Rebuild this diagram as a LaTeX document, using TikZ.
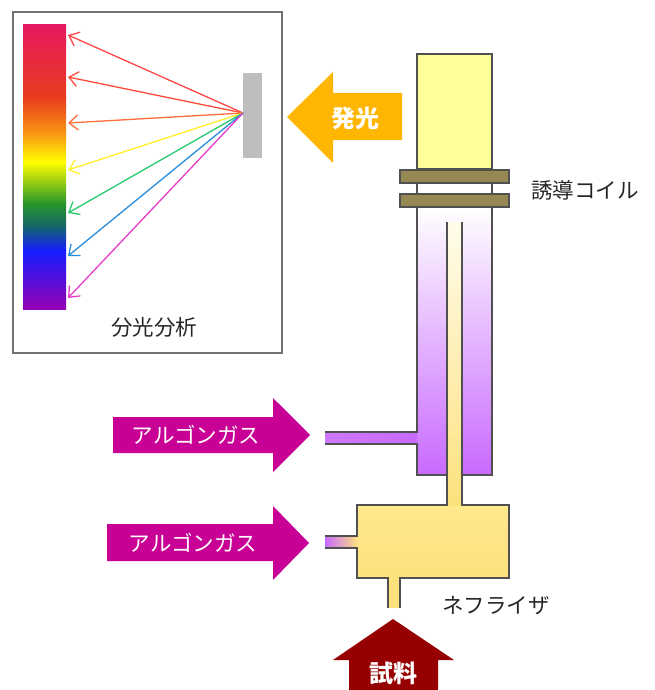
\documentclass[tikz,border=0pt]{standalone}
\usepackage{fontspec}
\setmainfont{Noto Sans CJK JP}
\usetikzlibrary{arrows.meta}

\definecolor{wallgray}{RGB}{80,80,80}
\definecolor{torchyellow}{RGB}{255,255,153}
\definecolor{coilolive}{RGB}{150,136,82}
\definecolor{plasmapurple}{RGB}{200,105,255}
\definecolor{gasmagenta}{RGB}{200,0,150}
\definecolor{emitorange}{RGB}{255,182,0}
\definecolor{samplered}{RGB}{150,0,0}
\definecolor{nebyellow}{RGB}{253,225,125}
\definecolor{gratinggray}{RGB}{190,190,190}

\begin{document}
\begin{tikzpicture}[
        x=1pt, y=-1pt,
        wall/.style={draw=wallgray, line width=1.2pt},
        part/.style={wall, inner sep=0pt, outer sep=0pt, anchor=north west},
        coil/.style={part, fill=coilolive, minimum width=109pt, minimum height=13pt},
        partname/.style={font=\fontsize{21.5}{21.5}\selectfont, text=black!85, inner sep=0pt},
        arrowtext/.style={font=\fontsize{21.5}{21.5}\selectfont, text=white, inner sep=0pt},
        boldtext/.style={arrowtext, font=\fontsize{24}{24}\selectfont\bfseries},
        ray/.style={line width=1.3pt, -{Straight Barb[length=9pt,width=15pt]}},
    ]
    \useasboundingbox (0,0) rectangle (654,690);

    % spectrometer box
    \node[part, draw=wallgray!80, minimum width=269pt, minimum height=341pt] (spec) at (13,12) {};
    \node[partname] (specname) at (154,327) {分光分析};

    % spectrum strip, shaded piece by piece
    \shade[top color={rgb,255:red,230;green,25;blue,95}, bottom color={rgb,255:red,232;green,60;blue,30}] (23,25) rectangle (66,97.5);
    \shade[top color={rgb,255:red,232;green,60;blue,30}, bottom color={rgb,255:red,250;green,150;blue,20}] (23,97) rectangle (66,133.5);
    \shade[top color={rgb,255:red,250;green,150;blue,20}, bottom color={rgb,255:red,255;green,255;blue,0}] (23,133) rectangle (66,162.5);
    \shade[top color={rgb,255:red,255;green,255;blue,0}, bottom color={rgb,255:red,40;green,150;blue,40}] (23,162) rectangle (66,203.5);
    \shade[top color={rgb,255:red,40;green,150;blue,40}, bottom color={rgb,255:red,20;green,100;blue,110}] (23,203) rectangle (66,227.5);
    \shade[top color={rgb,255:red,20;green,100;blue,110}, bottom color={rgb,255:red,20;green,30;blue,255}] (23,227) rectangle (66,250.5);
    \shade[top color={rgb,255:red,20;green,30;blue,255}, bottom color={rgb,255:red,150;green,0;blue,180}] (23,250) rectangle (66,309);

    % grating and dispersed rays
    \node[part, draw=none, fill=gratinggray, minimum width=19pt, minimum height=85pt] (grating) at (243,73) {};
    \coordinate (focus) at (243,113);
    \foreach \y/\r/\g/\b in {35/255/70/70, 77/255/75/55, 123/255/110/60, 170/255/240/40,
                             213/40/200/110, 256/40/140/220, 298/230/60/200}
        \draw[ray, draw={rgb,255:red,\r;green,\g;blue,\b}] (focus) -- (68,\y);

    % emission arrow
    \fill[emitorange] (402,93) -- (333,93) -- (333,72) -- (287,117) -- (333,163)
        -- (333,140) -- (402,140) -- cycle;
    \node[boldtext] (emit) at (355,118) {発光};

    % torch: plasma tube with inner sample tube
    \shade[top color=white, bottom color=plasmapurple] (417,207) rectangle (492,475);
    \shade[left color=plasmapurple!90, right color=plasmapurple] (325,432) rectangle (417,444);
    \shade[top color={rgb,255:red,255;green,252;blue,235}, bottom color=nebyellow] (447,222) rectangle (462,505);
    \draw[wall] (417,183) -- (417,432) -- (325,432)
        (325,444) -- (417,444) -- (417,475) -- (447,475)
        (462,475) -- (492,475) -- (492,183);
    \draw[wall] (447,222) -- (447,505) (462,222) -- (462,505);

    \node[part, fill=torchyellow, minimum width=75pt, minimum height=115pt] (flame) at (417,54) {};
    \node[coil] (coilA) at (400,170) {};
    \node[coil] (coilB) at (400,194) {};
    \node[partname, anchor=west] (coilname) at (531,190) {誘導コイル};

    % nebulizer
    \shade[left color=plasmapurple, right color=nebyellow] (325,536) rectangle (358,548);
    \shade[top color={rgb,255:red,255;green,232;blue,140}, bottom color=nebyellow] (357,505) rectangle (509,578);
    \fill[nebyellow] (388,577) rectangle (400,608);
    \fill[nebyellow] (448,500) rectangle (461,506);
    \draw[wall] (448,505) -- (357,505) -- (357,536) -- (325,536)
        (325,548) -- (357,548) -- (357,578) -- (388,578) -- (388,608)
        (400,608) -- (400,578) -- (509,578) -- (509,505) -- (461,505);
    \node[partname] (nebname) at (496,606) {ネフライザ};

    % argon inlets
    \fill[gasmagenta] (113,417) -- (273,417) -- (273,398) -- (310,435) -- (273,472)
        -- (273,453) -- (113,453) -- cycle;
    \node[arrowtext] (gasA) at (196,435) {アルゴンガス};
    \fill[gasmagenta] (107,524) -- (273,524) -- (273,506) -- (309,543) -- (273,580)
        -- (273,561) -- (107,561) -- cycle;
    \node[arrowtext] (gasB) at (193,543) {アルゴンガス};

    % sample inlet
    \fill[samplered] (393,619) -- (454,660) -- (438,660) -- (438,690) -- (349,690)
        -- (349,660) -- (333,660) -- cycle;
    \node[boldtext] (sample) at (393,673) {試料};
\end{tikzpicture}
\end{document}
